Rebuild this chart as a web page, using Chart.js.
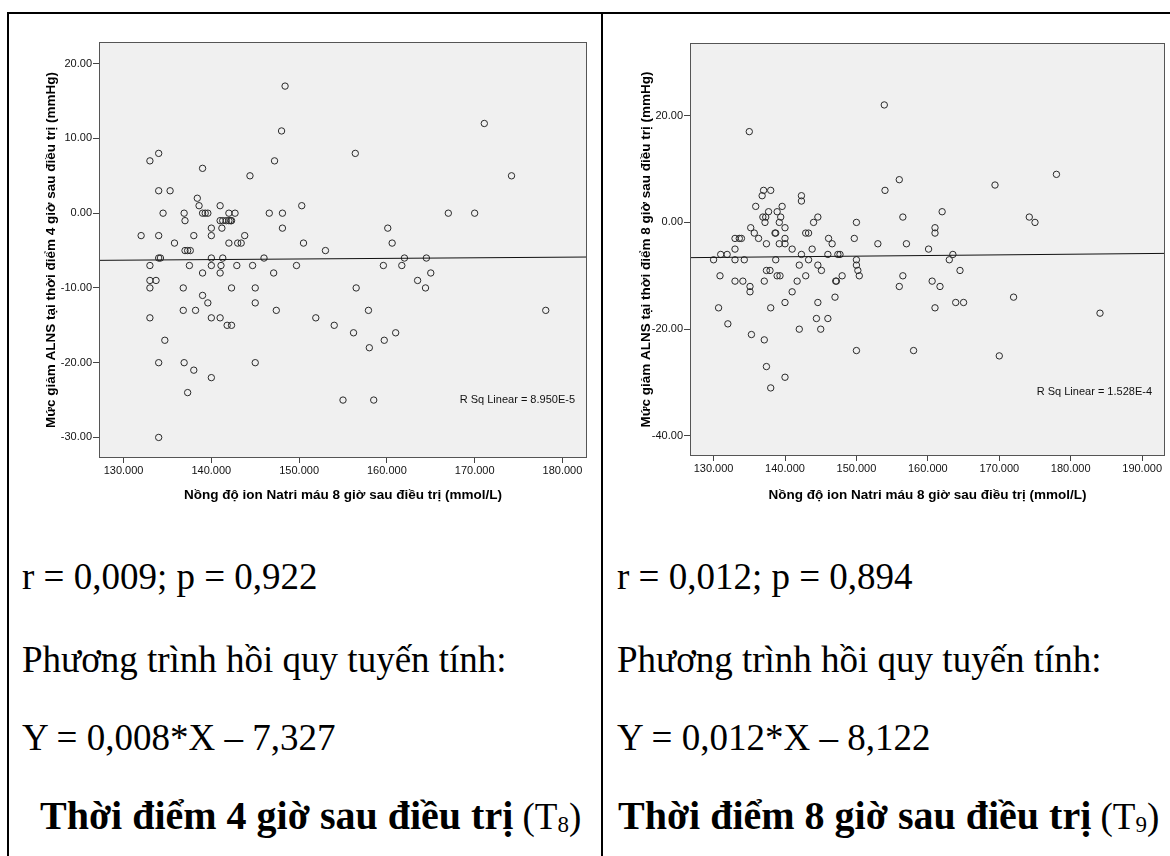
<!DOCTYPE html>
<html lang="vi">
<head>
<meta charset="utf-8">
<title>Natri máu và mức giảm ALNS</title>
<script src="https://cdn.jsdelivr.net/npm/chart.js@4.4.1/dist/chart.umd.min.js"></script>
<style>
  body { margin: 0; background: #fff; width: 1170px; height: 856px; position: relative; overflow: hidden; }
  .rule { position: absolute; background: #000; }
  canvas { position: absolute; }
  .txt { position: absolute; font-family: "Liberation Serif", "Times New Roman", serif; font-size: 37px;
         line-height: 37px; color: #000; white-space: nowrap; }
  .txt b { font-size: 40px; }
  .txt sub { font-size: 0.62em; vertical-align: -0.12em; line-height: 0; }
</style>
</head>
<body>

<!-- table frame -->
<div class="rule" style="left:7px;top:12px;width:1163px;height:2px"></div>
<div class="rule" style="left:7px;top:12px;width:2px;height:844px"></div>
<div class="rule" style="left:601px;top:12px;width:2px;height:844px"></div>

<canvas id="chartT8" width="588" height="490" style="left:10px;top:20px"></canvas>
<canvas id="chartT9" width="565" height="490" style="left:605px;top:20px"></canvas>

<div class="txt" style="left:22px;top:558px">r = 0,009; p = 0,922</div>
<div class="txt" style="left:22px;top:641px">Phương trình hồi quy tuyến tính:</div>
<div class="txt" style="left:22px;top:719px">Y = 0,008*X – 7,327</div>
<div class="txt" style="left:40px;top:797px"><b>Thời điểm 4 giờ sau điều trị</b> (T<sub>8</sub>)</div>

<div class="txt" style="left:617px;top:558px">r = 0,012; p = 0,894</div>
<div class="txt" style="left:617px;top:641px">Phương trình hồi quy tuyến tính:</div>
<div class="txt" style="left:617px;top:719px">Y = 0,012*X – 8,122</div>
<div class="txt" style="left:618px;top:797px"><b>Thời điểm 8 giờ sau điều trị</b> (T<sub>9</sub>)</div>

<script>
// Natri (mmol/L) vs mức giảm ALNS (mmHg), 4 giờ sau điều trị
const pointsT8 = [
  [132,-3],[133,7],[134,8],[134,3],[135.3,3],[134.5,0],[134,-3],[135.8,-4],[133,-7],[134,-6],
  [134.2,-6],[133,-9],[133.7,-9],[133,-10],[133,-14],[134.7,-17],[134,-20],[134,-30],[136.9,0],[137,-1],
  [137,-5],[137.3,-5],[137.6,-5],[137.5,-7],[136.8,-10],[136.8,-13],[136.9,-20],[137.3,-24],[138,-3],[138.4,2],
  [138.6,1],[139,0],[139.3,0],[139.6,0],[139,6],[139,-8],[139,-11],[139.6,-12],[138.2,-13],[138,-21],
  [140,-2],[140,-3],[140,-6],[140,-7],[140,-14],[140,-22],[141,1],[141,-1],[141.3,-1],[141.2,-2],
  [141.3,-6],[141.1,-7],[141,-8],[141,-14],[141.7,-1],[142,0],[142,-1],[142.2,-1],[142.3,-1],[142.7,0],
  [142,-4],[142.3,-10],[141.8,-15],[142.3,-15],[143,-4],[143.4,-4],[143.8,-3],[142.9,-7],[144.4,5],[144.7,-7],
  [145,-10],[145,-12],[145,-20],[146,-6],[146.6,0],[147.2,7],[147.1,-8],[147.4,-13],[148,11],[148.4,17],
  [148.1,0],[148.1,-2],[150.3,1],[150.5,-4],[149.7,-7],[151.9,-14],[153,-5],[154,-15],[155,-25],[156.4,8],
  [156.5,-10],[156.2,-16],[157.9,-13],[158,-18],[158.5,-25],[159.6,-7],[159.7,-17],[160.1,-2],[160.6,-4],[161,-16],
  [161.7,-7],[162,-6],[163.5,-9],[164.5,-6],[164.4,-10],[165,-8],[167,0],[170,0],[171.1,12],[174.2,5],
  [178.1,-13]
];

// Natri (mmol/L) vs mức giảm ALNS (mmHg), 8 giờ sau điều trị
const pointsT9 = [
  [130,-7],[131,-6],[131.9,-6],[130.9,-10],[130.7,-16],[132,-19],[133,-3],[133.6,-3],[133.9,-3],[133,-5],
  [133,-7],[134.3,-7],[133,-11],[134.1,-11],[135,17],[135.2,-1],[135.1,-12],[135.1,-13],[135.3,-21],[135.9,3],
  [135.7,-2],[136.3,-3],[136.8,5],[137,6],[136.9,1],[137.2,0],[137.3,1],[137.7,2],[138,6],[137.4,-4],
  [137.4,-9],[137.9,-9],[137.1,-11],[138,-16],[137.1,-22],[137.4,-27],[138,-31],[138.6,-2],[138.7,-2],[138.7,-7],
  [138.9,2],[139.2,0],[139.4,1],[139.6,3],[139.2,-4],[138.9,-10],[139.3,-10],[140,-1],[140,-3],[140,-4],
  [140,-15],[140,-29],[141,-5],[141,-13],[141.7,-11],[142,-8],[142,-20],[142.3,5],[142.3,4],[142.3,-6],
  [142.9,-10],[142.9,-2],[143.3,-2],[143.3,-7],[143.8,-5],[144,0],[144.6,1],[144.6,-8],[145.1,-9],[144.6,-15],
  [144.4,-18],[145,-20],[146.1,-3],[146.6,-4],[146,-6],[146,-18],[147,-14],[147.1,-11],[147.2,-11],[147.4,-6],
  [147.7,-6],[148,-10],[149.7,-3],[150,0],[150,-7],[150,-8],[150.2,-9],[150.4,-10],[150,-24],[153,-4],
  [153.9,22],[154,6],[156,8],[156.5,1],[157,-4],[156.5,-10],[156,-12],[158,-24],[160.1,-5],[161,-1],
  [161,-2],[162,2],[160.6,-11],[161.7,-12],[161,-16],[163,-7],[163.5,-6],[164.5,-9],[163.9,-15],[165,-15],
  [169.4,7],[172,-14],[170,-25],[174.2,1],[175,0],[178,9],[184.1,-17]
];

// regression lines: Y = slope*X + intercept
const fitT8 = [0.008, -7.327];
const fitT9 = [0.012, -8.122];

const xTicksT8 = [130, 140, 150, 160, 170, 180];
const yTicksT8 = [-30, -20, -10, 0, 10, 20];
const xTicksT9 = [130, 140, 150, 160, 170, 180, 190];
const yTicksT9 = [-40, -20, 0, 20];

const rsqT8 = 'R Sq Linear = 8.950E-5';
const rsqT9 = 'R Sq Linear = 1.528E-4';

const xTitle = 'Nồng độ ion Natri máu 8 giờ sau điều trị (mmol/L)';
const yTitleT8 = 'Mức giảm ALNS tại thời điểm 4 giờ sau điều trị (mmHg)';
const yTitleT9 = 'Mức giảm ALNS tại thời điểm 8 giờ sau điều trị (mmHg)';

const NARROW = '"Liberation Sans Narrow", "Arial Narrow", "Liberation Sans", sans-serif';
const SANS = '"Liberation Sans", Arial, sans-serif';

// grey plot background, frame and the R Sq note
const spssPanel = {
  id: 'spssPanel',
  beforeDraw(chart) {
    const a = chart.chartArea, c = chart.ctx;
    c.save();
    c.fillStyle = '#f0f0f0';
    c.fillRect(a.left, a.top, a.right - a.left, a.bottom - a.top);
    c.restore();
  },
  afterDraw(chart, args, o) {
    const a = chart.chartArea, c = chart.ctx;
    c.save();
    c.strokeStyle = '#555';
    c.lineWidth = 1;
    c.strokeRect(Math.round(a.left) + 0.5, Math.round(a.top) + 0.5,
                 Math.round(a.right - a.left) - 1, Math.round(a.bottom - a.top) - 1);
    c.fillStyle = '#111';
    c.font = '11px ' + NARROW;
    c.textAlign = 'right';
    c.textBaseline = 'middle';
    c.fillText(o.text, a.right - o.dx, a.bottom - o.dy);
    c.restore();
  }
};

function scatterPanel(id, pts, fit, xLim, yLim, xTicks, yTicks, yTitle, rsq, lay) {
  const tickFont = { family: NARROW, size: 11 };
  const lineY = x => fit[0] * x + fit[1];
  return new Chart(document.getElementById(id), {
    type: 'scatter',
    data: {
      datasets: [{
        data: pts.map(p => ({ x: p[0], y: p[1] })),
        pointRadius: 3.2,
        pointBorderWidth: 1,
        pointBorderColor: '#2a2a2a',
        pointBackgroundColor: 'rgba(0,0,0,0)',
        order: 2
      }, {
        type: 'line',
        data: [{ x: xLim[0], y: lineY(xLim[0]) }, { x: xLim[1], y: lineY(xLim[1]) }],
        borderColor: '#111',
        borderWidth: 1,
        pointRadius: 0,
        order: 1
      }]
    },
    options: {
      responsive: false,
      animation: false,
      events: [],
      layout: { padding: { top: lay.top, right: lay.right, left: 0, bottom: 0 } },
      plugins: {
        legend: { display: false },
        tooltip: { enabled: false },
        spssPanel: { text: rsq, dx: lay.rsqDx, dy: lay.rsqDy }
      },
      scales: {
        x: {
          type: 'linear', min: xLim[0], max: xLim[1],
          afterBuildTicks: s => { s.ticks = xTicks.map(v => ({ value: v })); },
          afterFit: s => { s.height = lay.xh; },
          ticks: { font: tickFont, color: '#111', padding: 1, maxRotation: 0, autoSkip: false,
                   callback: v => v.toFixed(3) },
          grid: { drawOnChartArea: false, tickLength: 5, tickColor: '#444' },
          border: { display: false },
          title: { display: true, text: xTitle, color: '#000',
                   font: { family: SANS, size: 13.5, weight: 'bold' },
                   padding: { top: 0, bottom: lay.xtPad } }
        },
        y: {
          type: 'linear', min: yLim[0], max: yLim[1],
          afterBuildTicks: s => { s.ticks = yTicks.map(v => ({ value: v })); },
          afterFit: s => { s.width = lay.yw; },
          ticks: { font: tickFont, color: '#111', padding: 1, autoSkip: false,
                   callback: v => v.toFixed(2) },
          grid: { drawOnChartArea: false, tickLength: 6, tickColor: '#444' },
          border: { display: false },
          title: { display: true, text: yTitle, color: '#000',
                   font: { family: SANS, size: 13.5, weight: 'bold' },
                   padding: { top: lay.ytPad, bottom: 0 } }
        }
      }
    },
    plugins: [spssPanel]
  });
}

scatterPanel('chartT8', pointsT8, fitT8, [127.2, 182.8], [-32.75, 22.9],
  xTicksT8, yTicksT8, yTitleT8, rsqT8,
  { top: 22, right: 11, xh: 52, yw: 89, xtPad: 6.9, ytPad: 32.9, rsqDx: 12, rsqDy: 58 });

scatterPanel('chartT9', pointsT9, fitT9, [126.7, 193.2], [-43.75, 33.6],
  xTicksT9, yTicksT9, yTitleT9, rsqT9,
  { top: 23, right: 4, xh: 54, yw: 85, xtPad: 6.9, ytPad: 33.4, rsqDx: 13, rsqDy: 64 });
</script>
</body>
</html>
